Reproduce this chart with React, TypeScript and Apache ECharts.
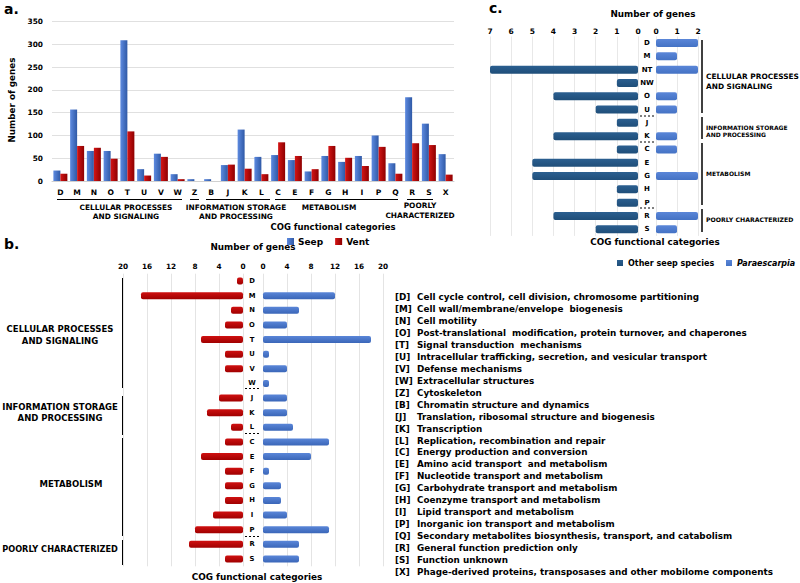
import React, { useEffect, useRef } from "react";
import * as echarts from "echarts";

// ---------- Panel a ----------
const catsA = ["D", "M", "N", "O", "T", "U", "V", "W", "Z", "B", "J", "K", "L", "C", "E", "F", "G", "H", "I", "P", "Q", "R", "S", "X"];
const seepA = [23, 157, 66, 66, 309, 26, 60, 15, 4, 4, 35, 113, 53, 57, 46, 21, 55, 42, 55, 100, 39, 184, 126, 59];
const ventA = [16, 77, 73, 49, 109, 12, 53, 4, 0, 0, 36, 27, 15, 85, 55, 26, 77, 51, 33, 75, 16, 83, 79, 14];

// ---------- Panel b ----------
const catsB = ["D", "M", "N", "O", "T", "U", "V", "W", "J", "K", "L", "C", "E", "F", "G", "H", "I", "P", "R", "S"];
const ventB = [1, 17, 2, 3, 7, 3, 3, 0, 4, 6, 2, 3, 7, 3, 3, 3, 5, 8, 9, 3];
const seepB = [0, 12, 6, 4, 18, 1, 4, 1, 4, 4, 5, 11, 8, 1, 3, 3, 4, 11, 6, 6];

// ---------- Panel c ----------
const catsC = ["D", "M", "NT", "NW", "O", "U", "J", "K", "C", "E", "G", "H", "P", "R", "S"];
const otherC = [0, 0, 7, 1, 4, 2, 1, 4, 1, 5, 5, 1, 1, 4, 2];
const paraC = [2, 1, 2, 0, 1, 1, 0, 1, 1, 0, 2, 0, 0, 2, 1];

// ---------- COG descriptions ----------
const cogCodes = ["D", "M", "N", "O", "T", "U", "V", "W", "Z", "B", "J", "K", "L", "C", "E", "F", "G", "H", "I", "P", "Q", "R", "S", "X"];
const cogDescriptions = [
  "Cell cycle control, cell division, chromosome partitioning",
  "Cell wall/membrane/envelope  biogenesis",
  "Cell motility",
  "Post-translational  modification, protein turnover, and chaperones",
  "Signal transduction  mechanisms",
  "Intracellular trafficking, secretion, and vesicular transport",
  "Defense mechanisms",
  "Extracellular structures",
  "Cytoskeleton",
  "Chromatin structure and dynamics",
  "Translation, ribosomal structure and biogenesis",
  "Transcription",
  "Replication, recombination and repair",
  "Energy production and conversion",
  "Amino acid transport  and metabolism",
  "Nucleotide transport and metabolism",
  "Carbohydrate transport and metabolism",
  "Coenzyme transport and metabolism",
  "Lipid transport and metabolism",
  "Inorganic ion transport and metabolism",
  "Secondary metabolites biosynthesis, transport, and catabolism",
  "General function prediction only",
  "Function unknown",
  "Phage-derived proteins, transposases and other mobilome components",
];

const FONT = '"DejaVu Sans", "Liberation Sans", sans-serif';
const BLUE = "#4472C4";
const NAVY = "#1F4E79";

function txt(x: number, y: number, text: string, size: number, align = "center", extra: any = {}) {
  return {
    type: "text",
    x,
    y,
    silent: true,
    ...extra,
    style: {
      text,
      fontSize: size,
      fontWeight: "bold",
      fontFamily: FONT,
      fill: "#000",
      align,
      verticalAlign: "middle",
      ...(extra.style || {}),
    },
  };
}
function ln(x1: number, y1: number, x2: number, y2: number, w = 1.5, dash: number[] | null = null) {
  return {
    type: "line",
    silent: true,
    shape: { x1, y1, x2, y2 },
    style: { stroke: "#000", lineWidth: w, lineDash: dash },
  };
}
function hGrad(c1: string, c2: string) {
  return new echarts.graphic.LinearGradient(0, 0, 1, 0, [
    { offset: 0, color: c1 },
    { offset: 1, color: c2 },
  ]);
}
function vGrad(c1: string, c2: string) {
  return new echarts.graphic.LinearGradient(0, 0, 0, 1, [
    { offset: 0, color: c1 },
    { offset: 1, color: c2 },
  ]);
}

const tickLabel = (size: number, margin: number) => ({
  fontSize: size,
  fontWeight: "bold",
  fontFamily: FONT,
  color: "#000",
  margin,
});

export default function App() {
  const ref = useRef<HTMLDivElement>(null);
  useEffect(() => {
    if (!ref.current) return;
    const chart = echarts.init(ref.current, null, { renderer: "svg" });

    const graphics: any[] = [];
    // panel letters
    graphics.push(txt(4, 9, "a.", 14, "left"));
    graphics.push(txt(4, 244, "b.", 14, "left"));
    graphics.push(txt(489, 8, "c.", 14, "left"));

    // ---- panel a decorations
    graphics.push(txt(12, 100, "Number of genes", 8.8, "center", { rotation: Math.PI / 2 }));
    graphics.push(ln(57, 199.5, 182, 199.5, 1));
    graphics.push(ln(190, 199.5, 199, 199.5, 1));
    graphics.push(ln(206, 199.5, 270, 199.5, 1));
    graphics.push(ln(275, 199.5, 398, 199.5, 1));
    graphics.push(ln(407, 199.5, 433, 199.5, 1));
    graphics.push(txt(126, 207, "CELLULAR PROCESSES", 7.4));
    graphics.push(txt(126, 216, "AND SIGNALING", 7.4));
    graphics.push(txt(236, 207, "INFORMATION STORAGE", 7.4));
    graphics.push(txt(236, 216, "AND PROCESSING", 7.4));
    graphics.push(txt(329, 207, "METABOLISM", 7.4));
    graphics.push(txt(420, 205, "POORLY", 7.4));
    graphics.push(txt(420, 215, "CHARACTERIZED", 7.4));
    graphics.push(txt(333, 227, "COG functional categories", 8.5));

    // ---- panel b decorations
    graphics.push(txt(253, 247, "Number of genes", 8.8));
    graphics.push(txt(257, 577, "COG functional categories", 8.9));
    graphics.push(ln(123, 278, 123, 388, 2));
    graphics.push(ln(123, 396, 123, 435, 2));
    graphics.push(ln(123, 438, 123, 536, 2));
    graphics.push(ln(123, 540, 123, 565, 2));
    graphics.push(ln(245, 388.5, 259, 388.5, 1, [2, 2]));
    graphics.push(ln(245, 433.5, 259, 433.5, 1, [2, 2]));
    graphics.push(ln(245, 536.5, 259, 536.5, 1, [2, 2]));
    graphics.push(txt(60, 329, "CELLULAR PROCESSES", 8.5));
    graphics.push(txt(60, 341, "AND SIGNALING", 8.5));
    graphics.push(txt(60, 407, "INFORMATION STORAGE", 8.5));
    graphics.push(txt(60, 418, "AND PROCESSING", 8.5));
    graphics.push(txt(71, 484, "METABOLISM", 8.5));
    graphics.push(txt(60, 549, "POORLY CHARACTERIZED", 8.2));
    cogCodes.forEach((c, i) => {
      const y = 297 + i * 11.96;
      graphics.push(txt(395, y, "[" + c + "]", 8.8, "left"));
      graphics.push(txt(417, y, cogDescriptions[i], 8.8, "left"));
    });

    // ---- panel c decorations
    graphics.push(txt(653, 14, "Number of genes", 8.8));
    graphics.push(txt(655, 242, "COG functional categories", 8.8));
    graphics.push(ln(702, 40, 702, 113, 1.5));
    graphics.push(ln(702, 117, 702, 139, 1.5));
    graphics.push(ln(702, 143, 702, 205, 1.5));
    graphics.push(ln(702, 209, 702, 232, 1.5));
    graphics.push(ln(640, 116, 655, 116, 1, [2, 2]));
    graphics.push(ln(640, 142, 655, 142, 1, [2, 2]));
    graphics.push(ln(640, 208, 655, 208, 1, [2, 2]));
    graphics.push(txt(706, 76, "CELLULAR PROCESSES", 7.4, "left"));
    graphics.push(txt(706, 86, "AND SIGNALING", 7.4, "left"));
    graphics.push(txt(706, 127, "INFORMATION STORAGE", 6, "left"));
    graphics.push(txt(706, 134, "AND PROCESSING", 6, "left"));
    graphics.push(txt(706, 173, "METABOLISM", 6, "left"));
    graphics.push(txt(706, 219, "POORLY CHARACTERIZED", 6.2, "left"));

    const legendText = { fontSize: 9, fontWeight: "bold", fontFamily: FONT, color: "#000" };

    const option: any = {
      animation: false,
      backgroundColor: "#fff",
      legend: [
        {
          data: ["Seep", "Vent"],
          left: 282,
          top: 232,
          icon: "rect",
          itemWidth: 7,
          itemHeight: 7,
          itemGap: 12,
          textStyle: { ...legendText, padding: [0, 0, 0, -1] },
          selectedMode: false,
        },
        {
          data: ["Other seep species"],
          left: 612,
          top: 254,
          icon: "rect",
          itemWidth: 6,
          itemHeight: 6,
          textStyle: { ...legendText, fontSize: 8 },
          selectedMode: false,
        },
        {
          data: ["Paraescarpia"],
          left: 721,
          top: 254,
          icon: "rect",
          itemWidth: 6,
          itemHeight: 6,
          textStyle: { ...legendText, fontSize: 8, fontStyle: "italic" },
          selectedMode: false,
        },
      ],
      grid: [
        { left: 52, top: 21.7, width: 402, height: 159.3, containLabel: false },
        { left: 123, top: 273.7, width: 120, height: 292.6 },
        { left: 263, top: 273.7, width: 120, height: 292.6 },
        { left: 490, top: 36.4, width: 148, height: 199.5 },
        { left: 656, top: 36.4, width: 42, height: 199.5 },
      ],
      xAxis: [
        {
          gridIndex: 0,
          type: "category",
          data: catsA,
          axisLine: { show: true, lineStyle: { color: "#d0d0d0" } },
          axisTick: { show: false },
          axisLabel: { ...tickLabel(7.6, 7), interval: 0 },
        },
        {
          gridIndex: 1,
          type: "value",
          inverse: true,
          min: 0,
          max: 20,
          interval: 4,
          position: "top",
          axisLine: { show: false },
          axisTick: { show: false },
          axisLabel: tickLabel(7.3, 4),
          splitLine: { lineStyle: { color: "#e4e4e4" } },
        },
        {
          gridIndex: 2,
          type: "value",
          min: 0,
          max: 20,
          interval: 4,
          position: "top",
          axisLine: { show: false },
          axisTick: { show: false },
          axisLabel: tickLabel(7.3, 4),
          splitLine: { lineStyle: { color: "#e4e4e4" } },
        },
        {
          gridIndex: 3,
          type: "value",
          inverse: true,
          min: 0,
          max: 7,
          interval: 1,
          position: "top",
          axisLine: { show: false },
          axisTick: { show: false },
          axisLabel: tickLabel(7.5, 1),
          splitLine: { lineStyle: { color: "#e8e8e8" } },
        },
        {
          gridIndex: 4,
          type: "value",
          min: 0,
          max: 2,
          interval: 1,
          position: "top",
          axisLine: { show: false },
          axisTick: { show: false },
          axisLabel: tickLabel(7.5, 1),
          splitLine: { lineStyle: { color: "#e8e8e8" } },
        },
      ],
      yAxis: [
        {
          gridIndex: 0,
          type: "value",
          min: 0,
          max: 350,
          interval: 50,
          axisLine: { show: false },
          axisTick: { show: false },
          axisLabel: tickLabel(7.4, 9),
          splitLine: { lineStyle: { color: "#e0e0e0" } },
        },
        {
          gridIndex: 1,
          type: "category",
          data: catsB,
          inverse: true,
          axisLine: { show: false },
          axisTick: { show: false },
          axisLabel: { show: false },
        },
        {
          gridIndex: 2,
          type: "category",
          data: catsB,
          inverse: true,
          axisLine: { show: false },
          axisTick: { show: false },
          axisLabel: { ...tickLabel(6.8, 11), align: "center", interval: 0 },
        },
        {
          gridIndex: 3,
          type: "category",
          data: catsC,
          inverse: true,
          axisLine: { show: false },
          axisTick: { show: false },
          axisLabel: { show: false },
        },
        {
          gridIndex: 4,
          type: "category",
          data: catsC,
          inverse: true,
          axisLine: { show: false },
          axisTick: { show: false },
          axisLabel: { ...tickLabel(7, 9), align: "center", interval: 0 },
        },
      ],
      series: [
        {
          name: "Seep",
          type: "bar",
          xAxisIndex: 0,
          yAxisIndex: 0,
          data: seepA,
          barWidth: 7,
          barGap: "0%",
          itemStyle: { color: hGrad("#5d8ae0", "#2f59a6") },
        },
        {
          name: "Vent",
          type: "bar",
          xAxisIndex: 0,
          yAxisIndex: 0,
          data: ventA,
          barWidth: 7,
          itemStyle: { color: hGrad("#d41515", "#8e0000") },
        },
        {
          name: "Vent",
          type: "bar",
          xAxisIndex: 1,
          yAxisIndex: 1,
          data: ventB,
          barWidth: 7,
          itemStyle: { color: vGrad("#cf1010", "#a00000"), borderRadius: 2 },
        },
        {
          name: "Seep",
          type: "bar",
          xAxisIndex: 2,
          yAxisIndex: 2,
          data: seepB,
          barWidth: 7,
          itemStyle: { color: vGrad("#5a86d8", "#3a66b8"), borderRadius: 2 },
        },
        {
          name: "Other seep species",
          type: "bar",
          xAxisIndex: 3,
          yAxisIndex: 3,
          data: otherC,
          barWidth: 8,
          itemStyle: { color: vGrad("#2b5f90", NAVY), borderRadius: 2 },
        },
        {
          name: "Paraescarpia",
          type: "bar",
          xAxisIndex: 4,
          yAxisIndex: 4,
          data: paraC,
          barWidth: 8,
          itemStyle: { color: vGrad("#5a86d8", BLUE), borderRadius: 2 },
        },
      ],
      graphic: graphics,
    };
    chart.setOption(option);
    return () => chart.dispose();
  }, []);

  return (
    <div
      ref={ref}
      style={{ position: "fixed", left: 0, top: 0, width: 800, height: 583, background: "#fff" }}
    />
  );
}
